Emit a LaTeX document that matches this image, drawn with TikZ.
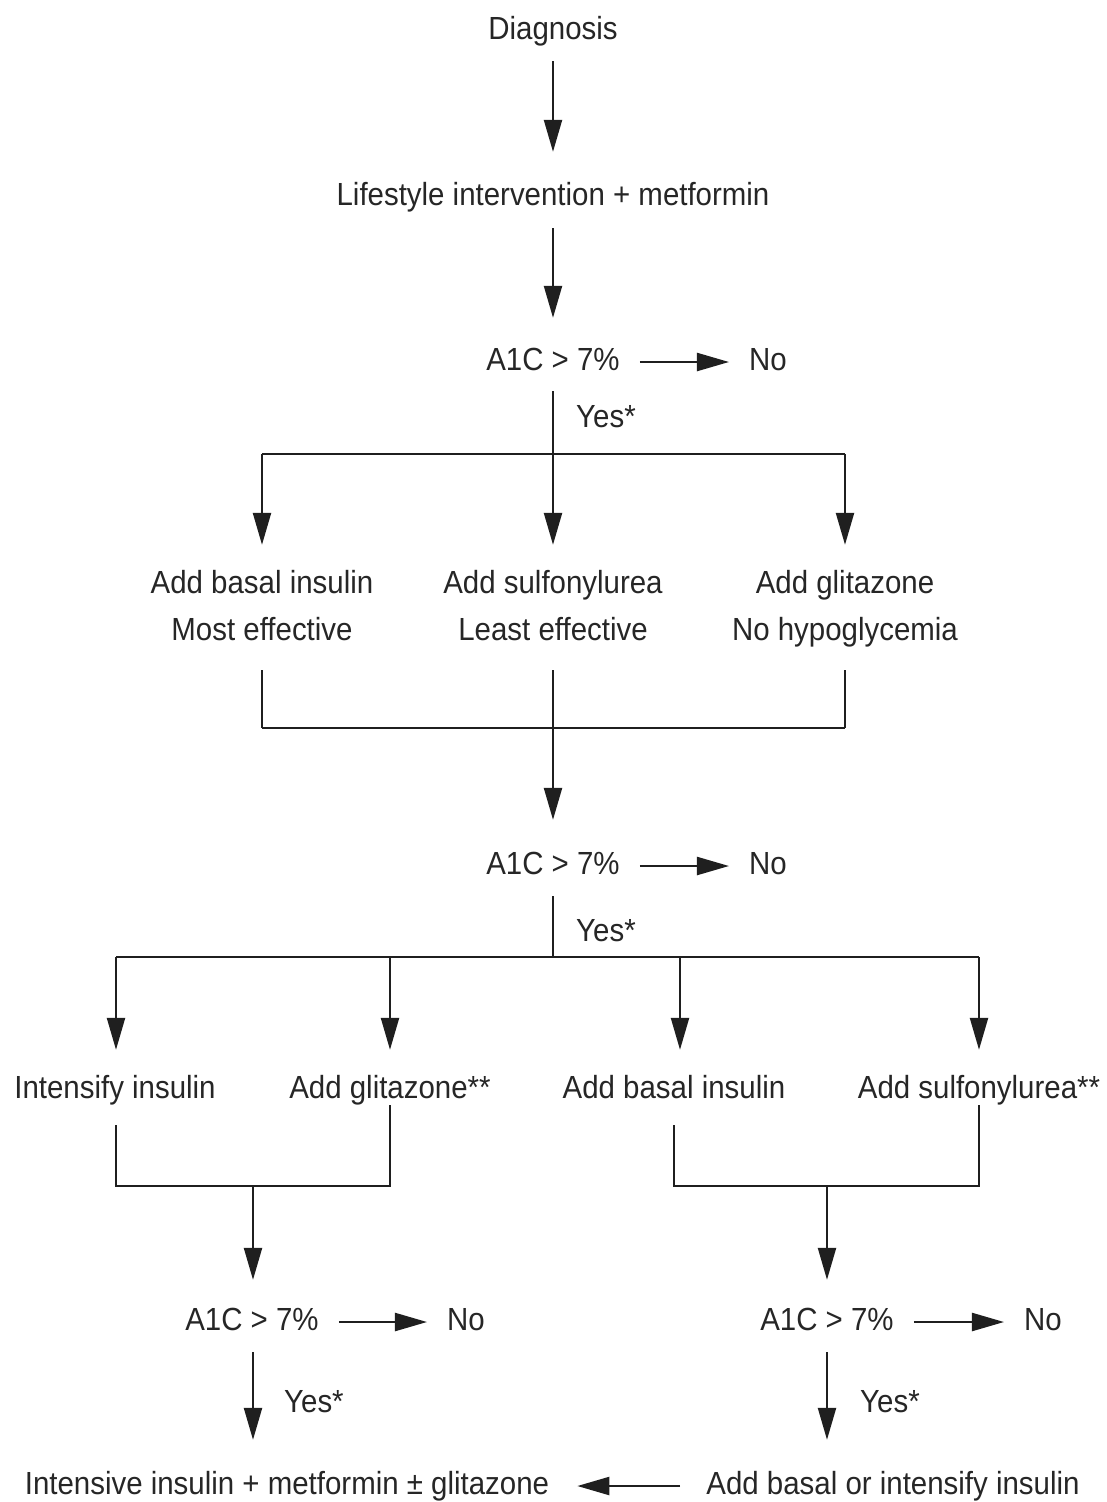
\documentclass[tikz,border=0pt]{standalone}
\usepackage{fontspec}
\setmainfont[FakeStretch=0.92]{Liberation Sans}
\usetikzlibrary{arrows.meta}
\begin{document}
\begin{tikzpicture}[x=1pt,y=-1pt,
  txt/.style={inner sep=0pt, text height=23pt, text depth=7pt, anchor=base, font=\fontsize{32}{38}\selectfont, text=black!85},
  ln/.style={line width=2.3pt, color=black!88},
  arr/.style={ln, -{Triangle[length=32pt,width=18pt]}}
]
\useasboundingbox (0,0) rectangle (1106,1502);
% nodes
\node[txt] (diag) at (553,39) {Diagnosis};
\node[txt] (life) at (553,205) {Lifestyle intervention + metformin};
\node[txt] (q1) at (553,370) {A1C > 7\%};
\node[txt] (no1) at (768,370) {No};
\node[txt,anchor=base west] (yes1) at (576,427) {Yes*};
\coordinate (j1) at (553,454);
\coordinate (j1L) at (262,454);
\coordinate (j1R) at (845,454);
\node[txt] (b1a) at (262,593) {Add basal insulin};
\node[txt] (b1b) at (262,640) {Most effective};
\node[txt] (b2a) at (553,593) {Add sulfonylurea};
\node[txt] (b2b) at (553,640) {Least effective};
\node[txt] (b3a) at (845,593) {Add glitazone};
\node[txt] (b3b) at (845,640) {No hypoglycemia};
\coordinate (k1) at (553,728);
\coordinate (k1L) at (262,728);
\coordinate (k1R) at (845,728);
\node[txt] (q2) at (553,874) {A1C > 7\%};
\node[txt] (no2) at (768,874) {No};
\node[txt,anchor=base west] (yes2) at (576,941) {Yes*};
\coordinate (j2) at (553,957);
\coordinate (j2a) at (116,957);
\coordinate (j2b) at (390,957);
\coordinate (j2c) at (680,957);
\coordinate (j2d) at (979,957);
\node[txt] (c1) at (115,1098) {Intensify insulin};
\node[txt] (c2) at (390,1098) {Add glitazone**};
\node[txt] (c3) at (674,1098) {Add basal insulin};
\node[txt] (c4) at (979,1098) {Add sulfonylurea**};
\coordinate (mL) at (253,1186);
\coordinate (mR) at (827,1186);
\node[txt] (q3L) at (252,1330) {A1C > 7\%};
\node[txt] (no3L) at (466,1330) {No};
\node[txt,anchor=base west] (yes3L) at (284,1412) {Yes*};
\node[txt] (q3R) at (827,1330) {A1C > 7\%};
\node[txt] (no3R) at (1043,1330) {No};
\node[txt,anchor=base west] (yes3R) at (860,1412) {Yes*};
\node[txt] (botL) at (287,1494) {Intensive insulin + metformin ± glitazone};
\node[txt] (botR) at (893,1494) {Add basal or intensify insulin};
% connectors
\draw[arr, shorten <=15pt, shorten >=30pt] (diag) -- (life);
\draw[arr, shorten <=16pt, shorten >=29pt] (life) -- (q1);
\draw[arr, shorten <=20pt, shorten >=20pt] (q1) -- (no1);
\draw[ln, shorten <=14pt] (q1.south) -- (j1);
\draw[ln] (j1L) -- (j1R);
\draw[arr, shorten >=25pt] (j1L) -- (b1a.north);
\draw[arr, shorten >=25pt] (j1) -- (b2a.north);
\draw[arr, shorten >=25pt] (j1R) -- (b3a.north);
\draw[ln, shorten <=23pt] (b1b.south) -- (k1L);
\draw[ln, shorten <=23pt] (b2b.south) -- (k1);
\draw[ln, shorten <=23pt] (b3b.south) -- (k1R);
\draw[ln] (k1L) -- (k1R);
\draw[arr, shorten >=31pt] (k1) -- (q2.north);
\draw[arr, shorten <=20pt, shorten >=20pt] (q2) -- (no2);
\draw[ln, shorten <=15pt] (q2.south) -- (j2);
\draw[ln] (j2a) -- (j2d);
\draw[arr, shorten >=25pt] (j2a) -- (j2a |- c1.north);
\draw[arr, shorten >=25pt] (j2b) -- (j2b |- c2.north);
\draw[arr, shorten >=25pt] (j2c) -- (j2c |- c3.north);
\draw[arr, shorten >=25pt] (j2d) -- (j2d |- c4.north);
\draw[ln, shorten <=20pt] (j2a |- c1.south) -- (j2a |- mL) -- (j2b |- mL) -- (j2b |- c2.south);
\draw[ln, shorten <=20pt] (c3.south) -- (c3.south |- mR) -- (j2d |- mR) -- (j2d |- c4.south);
\draw[arr, shorten >=27pt] (mL) -- (mL |- q3L.north);
\draw[arr, shorten >=27pt] (mR) -- (mR |- q3R.north);
\draw[arr, shorten <=20pt, shorten >=20pt] (q3L) -- (no3L);
\draw[arr, shorten <=20pt, shorten >=20pt] (q3R) -- (no3R);
\draw[arr, shorten <=15pt, shorten >=31pt] (mL |- q3L.south) -- (mL |- botL.north);
\draw[arr, shorten <=15pt, shorten >=31pt] (mR |- q3R.south) -- (mR |- botR.north);
\draw[arr, shorten <=26pt, shorten >=28pt] (botR) -- (botL);
\end{tikzpicture}
\end{document}
